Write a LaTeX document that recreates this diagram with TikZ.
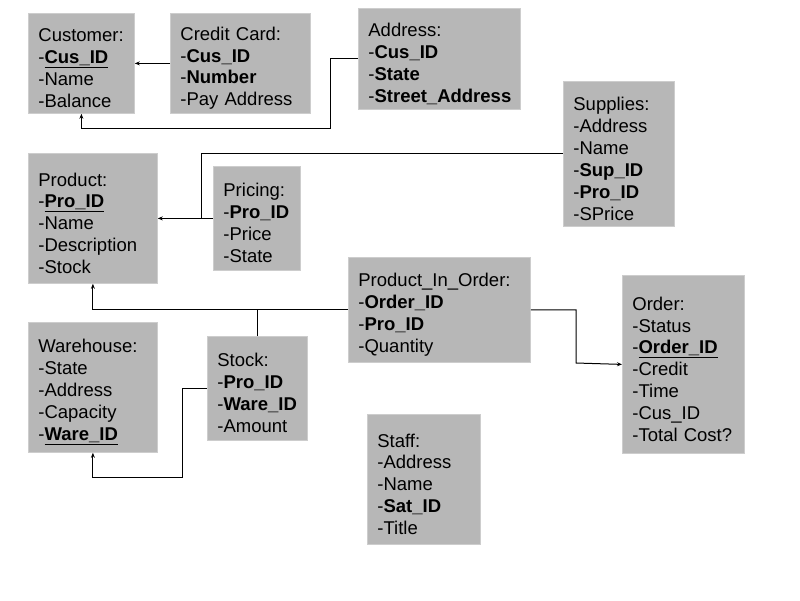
\documentclass[tikz,border=0pt]{standalone}
\usepackage{fontspec}
\setmainfont{Liberation Sans}
\usetikzlibrary{arrows.meta}
\definecolor{boxfill}{RGB}{183,183,183}
\definecolor{boxedge}{RGB}{205,205,205}
\tikzset{
  ebox/.style={fill=boxfill, draw=boxedge, line width=0.8pt, anchor=north west,
    inner xsep=10pt, inner ysep=0pt, align=left,
    font=\fontsize{18.5}{21.9}\selectfont,
    execute at begin node={\rule{0pt}{23pt}}},
  conn/.style={draw=black, line width=1pt},
  arr/.style={conn, -{Stealth[length=5pt,width=4pt]}}
}
\begin{document}
\begin{tikzpicture}[x=1pt,y=-1pt]
\useasboundingbox (0,0) rectangle (800,600);
\node[ebox, minimum width=106pt, text width=86pt, minimum height=100pt] (cust) at (28,13)
  {Customer:\\-\underline{\textbf{Cus\_ID}}\\-Name\\-Balance};
\node[ebox, minimum width=140pt, text width=120pt, minimum height=100pt] (cc) at (170,13)
  {Credit Card:\\-\textbf{Cus\_ID}\\-\textbf{Number}\\-Pay Address};
\node[ebox, minimum width=162pt, text width=142pt, minimum height=101pt] (addr) at (358,8)
  {Address:\\-\textbf{Cus\_ID}\\-\textbf{State}\\\mbox{-\textbf{Street\_Address}}};
\node[ebox, minimum width=111pt, text width=91pt, minimum height=145pt] (sup) at (563,81)
  {Supplies:\\-Address\\-Name\\-\textbf{Sup\_ID}\\-\textbf{Pro\_ID}\\-SPrice};
\node[ebox, minimum width=129pt, text width=109pt, minimum height=130pt] (prod) at (28,153)
  {Product:\\-\underline{\textbf{Pro\_ID}}\\-Name\\-Description\\-Stock};
\node[ebox, minimum width=87pt, text width=67pt, minimum height=104pt] (pri) at (213,166)
  {Pricing:\\-\textbf{Pro\_ID}\\-Price\\-State};
\node[ebox, minimum width=182pt, text width=162pt, minimum height=105pt] (pio) at (348,257)
  {Product\_In\_Order:\\-\textbf{Order\_ID}\\-\textbf{Pro\_ID}\\-Quantity};
\node[ebox, minimum width=122pt, text width=102pt, minimum height=178pt] (ord) at (622,275)
  {Order:\\-Status\\-\underline{\textbf{Order\_ID}}\\-Credit\\-Time\\-Cus\_ID\\-Total Cost?};
\node[ebox, minimum width=129pt, text width=109pt, minimum height=130pt] (wh) at (28,322)
  {Warehouse:\\-State\\-Address\\-Capacity\\-\underline{\textbf{Ware\_ID}}};
\node[ebox, minimum width=100pt, text width=80pt, minimum height=104pt] (stock) at (207,336)
  {Stock:\\-\textbf{Pro\_ID}\\-\textbf{Ware\_ID}\\-Amount};
\node[ebox, minimum width=113pt, text width=93pt, minimum height=130pt] (staff) at (367,414)
  {Staff:\\-Address\\-Name\\-\textbf{Sat\_ID}\\-Title};
% connectors
\coordinate (a1) at (330,128);
\coordinate (s1) at (201,218);
\coordinate (o1) at (576,363);
\coordinate (w1) at (182,477);
\draw[arr] (cc.west) -- (cust.east);
\draw[arr] (addr.west) -| (a1) -| (cust.south);
\draw[conn] (sup.west) -| (s1);
\draw[arr] (pri.west) -- (prod.east);
\draw[arr] (pio.west) -| (prod.south);
\draw[conn] (stock.north) -- (stock.north |- pio.west);
\draw[arr] (pio.east) -| (o1) -- (ord.west);
\draw[arr] (stock.west) -| (w1) -| (wh.south);
\end{tikzpicture}
\end{document}
